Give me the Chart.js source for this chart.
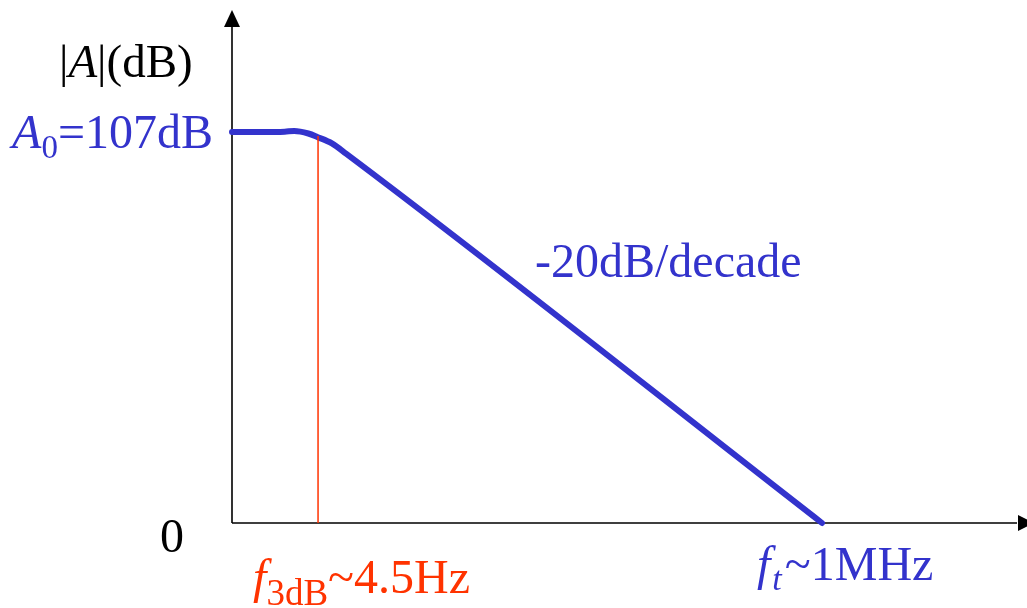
<!DOCTYPE html>
<html>
<head>
<meta charset="utf-8">
<script src="https://cdn.jsdelivr.net/npm/chart.js@4"></script>
<style>
html, body { margin: 0; padding: 0; background: #fff; }
#wrap { width: 1027px; height: 608px; }
</style>
</head>
<body>
<div id="wrap"><canvas id="bodeChart"></canvas></div>
<script>
// open-loop gain vs log10(frequency)
const logFreq = [-0.26, 0.04, 0.30, 0.40, 0.55, 0.65, 0.80, 0.95, 6.0];
const gainDb  = [107, 107, 107.1, 107.3, 106.6, 105.6, 103.9, 101.1, 0];
const f3dbLog = 0.653;
const f3dbLine = [0, 105.9];
const yTickLabels = ['0', 'A0=107dB'];
const xTickLabels = ['f3dB~4.5Hz', 'ft~1MHz'];
const slopeLabel = '-20dB/decade';

const BLUE = '#3333cc';
const RED = '#ff3300';
const SERIF = '"Liberation Serif", "DejaVu Serif", serif';

// draw a row of text pieces, each with own font / baseline shift
function runs(ctx, x, y, parts, color, align) {
    let w = 0;
    parts.forEach(p => { ctx.font = p.font; w += ctx.measureText(p.t).width; });
    let cx = align === 'right' ? x - w : (align === 'center' ? x - w / 2 : x);
    ctx.fillStyle = color;
    ctx.textBaseline = 'alphabetic';
    ctx.textAlign = 'left';
    parts.forEach(p => {
        ctx.font = p.font;
        ctx.fillText(p.t, cx, y + (p.dy || 0));
        cx += ctx.measureText(p.t).width + (p.gap || 0);
    });
}

const axesPlugin = {
    id: 'axesPlugin',
    beforeDatasetsDraw(chart) {
        const ctx = chart.ctx;
        const xs = chart.scales.x, ys = chart.scales.y;
        const x0 = xs.getPixelForValue(xs.min);
        const y0 = ys.getPixelForValue(0);
        const top = chart.chartArea.top;
        const right = chart.width;
        ctx.save();
        ctx.strokeStyle = '#000';
        ctx.fillStyle = '#000';
        ctx.lineWidth = 1.6;
        ctx.beginPath();
        ctx.moveTo(x0, y0);
        ctx.lineTo(x0, top + 14);
        ctx.moveTo(x0, y0);
        ctx.lineTo(right - 10, y0);
        ctx.stroke();
        // arrow heads
        ctx.beginPath();
        ctx.moveTo(x0, top);
        ctx.lineTo(x0 - 8, top + 17);
        ctx.lineTo(x0 + 8, top + 17);
        ctx.closePath();
        ctx.fill();
        ctx.beginPath();
        ctx.moveTo(right + 7, y0);
        ctx.lineTo(right - 9, y0 - 8);
        ctx.lineTo(right - 9, y0 + 8);
        ctx.closePath();
        ctx.fill();
        ctx.restore();
    },
    afterDraw(chart) {
        const ctx = chart.ctx;
        const xs = chart.scales.x, ys = chart.scales.y;
        const x0 = xs.getPixelForValue(xs.min);
        const big = '48px ' + SERIF;
        const bigI = 'italic 48px ' + SERIF;
        ctx.save();
        // y axis title
        runs(ctx, 59, 77, [
            { t: '|', font: '47px ' + SERIF }, { t: 'A', font: 'italic 47px ' + SERIF },
            { t: '|(dB)', font: '47px ' + SERIF }
        ], '#000');
        // y tick labels
        runs(ctx, 172, ys.getPixelForValue(0) + 29, [{ t: yTickLabels[0], font: big }], '#000', 'center');
        runs(ctx, x0 - 19, ys.getPixelForValue(107) + 16, [
            { t: 'A', font: bigI }, { t: '0', font: '33px ' + SERIF, dy: 10 },
            { t: yTickLabels[1].slice(2), font: big }
        ], BLUE, 'right');
        // x tick labels
        runs(ctx, xs.getPixelForValue(f3dbLog) - 65, 593, [
            { t: 'f', font: bigI }, { t: '3dB', font: '37px ' + SERIF, dy: 12 },
            { t: xTickLabels[0].slice(4), font: big }
        ], RED);
        runs(ctx, xs.getPixelForValue(6) - 65, 580, [
            { t: 'f', font: bigI, gap: 2 }, { t: 't', font: 'italic 34px ' + SERIF, dy: 10, gap: 3 },
            { t: xTickLabels[1].slice(2), font: big }
        ], BLUE);
        // slope annotation
        runs(ctx, 535, 277, [{ t: slopeLabel, font: big }], BLUE);
        ctx.restore();
    }
};

const ctx = document.getElementById('bodeChart');
new Chart(ctx, {
    type: 'line',
    data: {
        datasets: [
            {
                label: 'f3dB',
                data: f3dbLine.map(v => ({ x: f3dbLog, y: v })),
                borderColor: RED,
                borderWidth: 1.5,
                pointRadius: 0,
                clip: false,
                order: 0
            },
            {
                label: '|A|',
                data: logFreq.map((f, i) => ({ x: f, y: gainDb[i] })),
                borderColor: BLUE,
                borderWidth: 6,
                borderCapStyle: 'round',
                borderJoinStyle: 'round',
                cubicInterpolationMode: 'monotone',
                pointRadius: 0,
                clip: false,
                order: 1
            }
        ]
    },
    options: {
        responsive: true,
        maintainAspectRatio: false,
        animation: false,
        layout: { padding: { left: 232, right: 0, top: 10, bottom: 85 } },
        scales: {
            x: { type: 'linear', min: -0.26, max: 8.175, display: false },
            y: { type: 'linear', min: 0, max: 140.4, display: false }
        },
        plugins: {
            legend: { display: false },
            tooltip: { enabled: false }
        }
    },
    plugins: [axesPlugin]
});
</script>
</body>
</html>
